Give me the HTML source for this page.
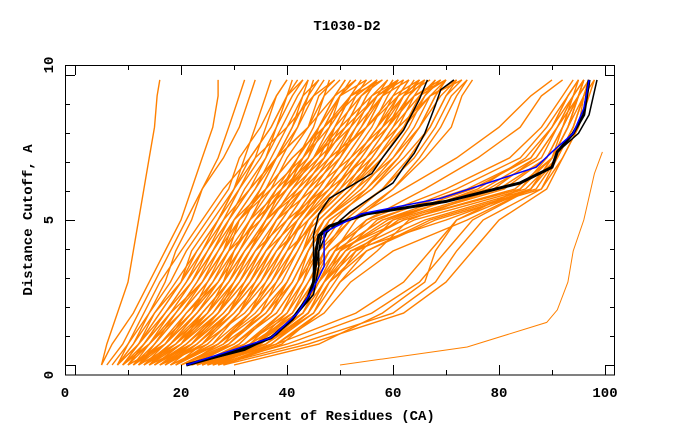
<!DOCTYPE html>
<html><head><meta charset="utf-8"><style>
body{margin:0;background:#fff}
svg{display:block}
text{font-family:"Liberation Mono",monospace;font-weight:bold;font-size:14px;fill:#000}
</style></head><body>
<svg id="chart" width="680" height="440">
<text x="347" y="30" text-anchor="middle">T1030-D2</text>
<text x="334" y="420" text-anchor="middle">Percent of Residues (CA)</text>
<text transform="translate(32,220) rotate(-90)" text-anchor="middle">Distance Cutoff, A</text>
<g id="series"></g>
<g id="axes"></g>
</svg>
<script>
const levels = [0,0.72,1.79,2.86,3.93,5.0,6.07,7.14,8.2,9.28,9.83];
const orangeSeries = [
[8,11,14,17,19,22,24,27,29,31,32],[9,12,16,20,24,27,30,32,34,36,37],[10,13,18,22,26,29,33,36,38,40,41],
[11,15,20,25,29,33,36,39,42,44,45],[12,16,22,27,31,35,39,42,45,47,48],[13,18,24,29,33,37,41,45,48,50,52],
[14,20,26,31,35,39,43,47,50,53,55],[15,21,28,33,37,41,45,49,52,55,57],[16,23,30,35,39,43,47,51,55,58,60],
[17,24,32,37,41,44,49,53,57,60,62],[18,26,33,38,42,45,51,55,59,62,64],[19,27,35,40,43,46,52,57,61,64,66],
[20,28,36,41,44,47,54,59,63,66,68],[22,30,38,42,45,48,56,61,65,68,70],[24,32,39,43,46,50,58,63,67,70,72],
[26,34,41,44,47,52,60,65,69,72,74],[9,14,20,24,28,31,35,38,41,43,44],[10,17,23,28,32,36,40,43,46,49,51],
[12,19,25,30,34,38,42,46,49,52,54],[14,22,29,34,38,42,46,50,54,57,59],[16,25,31,36,40,43,48,52,56,59,61],
[18,27,34,39,42,45,50,54,58,61,63],[20,29,36,40,43,46,52,56,60,63,65],[8,10,13,16,20,24,28,33,37,40,42],
[9,12,15,19,23,27,31,35,38,41,43],[11,14,18,22,26,30,34,38,42,45,47],[13,17,21,26,30,34,38,42,46,49,51],
[15,20,24,29,33,37,41,45,49,52,54],[17,22,27,32,36,40,44,48,52,55,57],[19,24,30,35,39,42,47,51,55,58,60],
[21,27,33,38,41,44,49,53,57,61,63],[23,29,35,40,43,45,51,55,59,63,66],[25,31,37,41,44,47,53,58,62,65,68],
[27,34,40,43,45,49,55,60,64,67,70],[10,13,17,21,25,28,31,34,36,38,40],[12,15,19,24,28,32,35,38,41,44,46],
[14,18,23,28,32,36,39,43,47,50,53],[16,21,27,31,35,39,43,47,51,54,57],[18,23,29,33,37,41,45,49,53,56,59],
[8,12,17,21,24,28,33,38,44,47,50],[10,14,19,23,27,31,37,43,48,52,56],[12,17,23,27,31,34,40,46,52,57,61],
[14,19,26,30,33,36,43,49,55,60,65],[16,22,28,33,36,40,47,53,59,64,69],[9,13,18,24,27,30,36,41,47,52,58],
[11,16,21,27,30,33,39,45,51,57,62],[13,19,24,29,33,36,42,48,55,61,66],[15,21,27,32,35,38,45,52,58,64,70],
[17,23,29,34,37,41,48,55,61,67,73],[8,11,15,20,22,26,30,34,40,45,49],[10,13,17,22,25,29,33,38,44,49,53],
[12,15,20,25,29,31,36,41,47,53,57],[14,18,23,28,31,34,40,45,50,56,61],[11,16,22,26,29,35,38,44,46,50,55],
[13,18,25,29,32,37,41,47,49,54,58],[15,20,27,31,34,40,44,50,53,58,63],[17,22,29,33,36,42,47,53,57,62,67],
[19,25,31,35,38,44,50,56,60,65,70],[21,27,33,37,40,46,52,58,62,67,72],[9,14,19,23,26,29,32,36,39,42,44],
[11,17,22,25,28,30,34,37,40,43,46],[13,20,25,28,30,33,37,40,44,46,49],[15,22,27,30,33,36,40,44,47,50,53],
[17,24,29,32,35,38,43,47,51,54,57],[19,26,31,34,37,41,46,50,54,58,61],[20,28,33,36,39,43,49,54,58,62,65],
[22,29,35,38,41,45,51,57,62,66,69],[23,31,37,40,43,47,53,60,65,69,72],[25,33,39,42,44,48,56,62,67,70,73],
[7,10,14,18,21,25,29,31,35,38,40],[8,12,16,20,23,27,30,33,37,40,43],[26,36,43,46,49,53,60,66,71,73,75],
[24,34,41,45,47,51,58,64,68,71,74],[21,30,37,41,44,47,55,61,65,68,70],
[20,30,38,42,46,52,62,72,80,86,90],[22,32,40,44,48,55,66,76,84,88,92],
[22,33,42,45,48,56,74,86,90,93,95],[23,34,42,46,49,58,78,88,91,94,96],[24,35,43,46,50,60,80,89,92,95,97],
[22,32,41,45,49,62,83,90,93,95,97],[25,36,44,47,52,64,85,91,94,96,98],[24,34,43,47,53,66,86,91,94,96,97],
[26,37,44,48,55,68,88,92,95,97,98],[23,33,42,46,50,55,70,82,88,92,94],[24,35,43,47,51,57,72,84,89,93,95],
[25,36,44,48,54,60,76,85,90,94,96],[27,38,46,50,57,63,79,87,91,95,96],[22,36,45,48,52,70,86,90,93,95,96],
[28,38,47,52,60,74,86,90,92,94,95],[26,40,56,65,70,75,86,90,93,95,96],[27,42,60,68,72,77,88,91,94,96,97],
[25,38,53,62,67,72,86,90,93,95,96],[23,36,44,47,50,59,77,87,91,94,96],[26,37,45,49,53,61,81,89,92,95,97],
[25,35,43,46,49,58,75,86,90,93,95],[24,33,42,46,51,62,84,90,93,96,97],[28,39,46,50,55,67,87,91,94,96,97],
[28,44,62,70,75,80,89,92,95,96,97],[30,46,58,66,68,72,84,89,92,95,96],
[5,6,8,10,11,12,13,14,15,15.5,16],[5,7,11,14,17,20,22,24,26,27,27],[6,9,12,15,18,21,24,28,31,33,34]
];
const outlierX = [50,74,89,91,93,94,96,98,99.5];
const outlierY = [0,0.62,1.47,1.9,2.86,3.93,5.0,6.6,7.35];
const mainX = [21,31,37,41,44,45,45.5,46,48,55,70,84,90,91,94,96,97];
const mainY = [0,0.51,0.94,1.58,2.33,2.86,3.93,4.47,4.79,5.21,5.64,6.28,6.82,7.35,7.99,8.63,9.83];
const main2X = [21,31,37,41,44,45,46,46.5,48,55,70,84,90,91,95,97,98.5];
const blueX = [21,37,42,45,47,47,54,69,87,90,94,96,97];
const blueY = [0,0.94,1.79,2.65,3.4,4.57,5.21,5.75,6.82,7.35,7.99,8.85,9.83];
const black2X = [21,31,37,41,44,45,45,46,48,56,58,62,65,66.5];
const black2Y = [0,0.51,0.94,1.58,2.33,2.86,4.47,5.21,5.75,6.6,7.14,8.1,9.17,9.83];
const black3X = [21,32,38,42,45,46,46,47.5,52,60,62,64,66,68,69,71.5];
const black3Y = [0,0.51,1.05,1.79,2.43,3.4,3.93,4.57,5.3,6.28,6.82,7.3,7.99,8.96,9.49,9.83];
const xTicks = [0,10,20,30,40,50,60,70,80,90,100];
const xTickLabels = ["0","20","40","60","80","100"];
const yTicks = [0,1,2,3,4,5,6,7,8,9,10];

const X = v => 75 + 5.3*v;
const Y = v => 365 - 29*v;
const NS = "http://www.w3.org/2000/svg";
const g = document.getElementById('series');
const ax = document.getElementById('axes');
function poly(xs, ys, color, w, name){
  const p = document.createElementNS(NS,'polyline');
  p.setAttribute('points', xs.map((x,i)=>X(x).toFixed(1)+','+Y(ys[i]).toFixed(1)).join(' '));
  p.setAttribute('fill','none'); p.setAttribute('stroke',color); p.setAttribute('stroke-width',w);
  
  
  g.appendChild(p);
}
orangeSeries.forEach((s,i)=>poly(s, levels, '#ff8000', 1.4, 'model-line-'+i));
poly(outlierX, outlierY, '#ff8000', 1, 'model-line-outlier');
poly(black2X, black2Y, '#000', 1.5, 'reference-line-2');
poly(black3X, black3Y, '#000', 1.5, 'reference-line-3');
poly(main2X, mainY, '#000', 1.5, 'reference-line-4');
poly(mainX, mainY, '#000', 3, 'reference-line-main');
poly(blueX, blueY, '#0000ff', 1.5, 'highlight-line');

function line(x1,y1,x2,y2,name){
  const l = document.createElementNS(NS,'line');
  l.setAttribute('x1',x1);l.setAttribute('y1',y1);l.setAttribute('x2',x2);l.setAttribute('y2',y2);
  l.setAttribute('stroke','#000');l.setAttribute('stroke-width',1);
  
  
  ax.appendChild(l);
}
const r = document.createElementNS(NS,'rect');
r.setAttribute('x',65.5);r.setAttribute('y',65.5);r.setAttribute('width',549);r.setAttribute('height',309.5);
r.setAttribute('fill','none');r.setAttribute('stroke','#000');


ax.appendChild(r);
xTicks.forEach((t,i)=>{
  const len = i%2===0 ? 10 : 5; const px = Math.round(X(t))+0.5;
  line(px,375,px,375-len,'x-tick');
  line(px,65,px,65+len,'x-tick-top');
});
yTicks.forEach((t,i)=>{
  const len = i%5===0 ? 10 : 5; const py = Math.round(Y(t))+0.5;
  line(65,py,65+len,py,'y-tick');
  line(615,py,615-len,py,'y-tick-right');
});
xTickLabels.forEach((s,i)=>{
  const t = document.createElementNS(NS,'text');
  t.setAttribute('x', i===0 ? 65 : X(+s)); t.setAttribute('y', 397);
  t.setAttribute('text-anchor','middle'); t.textContent = s;
  
  
  ax.appendChild(t);
});
[["0",375],["5",220],["10",65]].forEach(([s,py])=>{
  const t = document.createElementNS(NS,'text');
  t.setAttribute('transform','translate(53,'+py+') rotate(-90)');
  t.setAttribute('text-anchor','middle'); t.textContent = s;
  
  
  ax.appendChild(t);
});
</script>
</body></html>
